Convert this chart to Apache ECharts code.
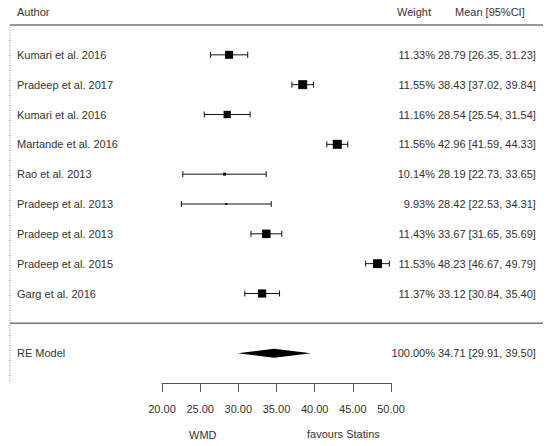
<!DOCTYPE html>
<html><head><meta charset="utf-8">
<script src="https://cdn.jsdelivr.net/npm/echarts@6/dist/echarts.min.js"></script>
<style>html,body{margin:0;padding:0;background:#fff}#c{width:550px;height:446px}</style>
</head><body><div id="c"></div>
<script>
const authors = ["Kumari et al. 2016","Pradeep et al. 2017","Kumari et al. 2016","Martande et al. 2016","Rao et al. 2013","Pradeep et al. 2013","Pradeep et al. 2013","Pradeep et al. 2015","Garg et al. 2016"];
const weights = [11.33,11.55,11.16,11.56,10.14,9.93,11.43,11.53,11.37];
const means = [28.79,38.43,28.54,42.96,28.19,28.42,33.67,48.23,33.12];
const lowers = [26.35,37.02,25.54,41.59,22.73,22.53,31.65,46.67,30.84];
const uppers = [31.23,39.84,31.54,44.33,33.65,34.31,35.69,49.79,35.40];
const reLabel = "RE Model";
const reWeight = 100.00;
const reMean = 34.71, reLower = 29.91, reUpper = 39.50;
const xTicks = [20,25,30,35,40,45,50];

const FONT = 'Liberation Sans, Arial, sans-serif';
const TXT = '#333';
const reRow = authors.length + 1;
const wMin = Math.min(...weights), wMax = Math.max(...weights);
const fmt = v => v.toFixed(2);

const studyData = authors.map((a,i)=>[i, means[i], lowers[i], uppers[i], weights[i]]);
const textData = authors.map((a,i)=>[i, a, weights[i].toFixed(2)+'%', fmt(means[i])+' ['+fmt(lowers[i])+', '+fmt(uppers[i])+']']);
textData.push([reRow, reLabel, reWeight.toFixed(2)+'%', fmt(reMean)+' ['+fmt(reLower)+', '+fmt(reUpper)+']']);

const chart = echarts.init(document.getElementById('c'), null, {renderer:'svg'});
chart.setOption({
  animation:false,
  backgroundColor:'#fff',
  textStyle:{fontFamily:FONT},
  grid:{left:162,right:159,top:25,bottom:63},
  xAxis:{type:'value',position:'bottom',min:xTicks[0],max:xTicks[xTicks.length-1],interval:5,
    splitLine:{show:false},
    axisLine:{show:true,onZero:false,lineStyle:{color:'#555',width:1}},
    axisTick:{show:true,length:9,inside:false,lineStyle:{color:'#555'}},
    axisLabel:{formatter:v=>v.toFixed(2),color:TXT,fontSize:11,margin:20,fontFamily:FONT}},
  yAxis:{type:'value',min:-1,max:reRow+1,inverse:true,show:false},
  graphic:[
    {type:'line',shape:{x1:10,y1:25,x2:543,y2:25},style:{stroke:'#777',lineWidth:1.5}},
    {type:'line',shape:{x1:10,y1:25,x2:10,y2:383},style:{stroke:'#888',lineWidth:1,lineDash:[1,1.5]}},
    {type:'text',left:17,top:6,style:{text:'Author',fill:TXT,font:'11px '+FONT}},
    {type:'text',left:397,top:6,style:{text:'Weight',fill:TXT,font:'11px '+FONT}},
    {type:'text',left:455,top:6,style:{text:'Mean [95%CI]',fill:TXT,font:'11px '+FONT}},
    {type:'text',left:189,top:429,style:{text:'WMD',fill:TXT,font:'11px '+FONT}},
    {type:'text',left:307,top:428,style:{text:'favours Statins',fill:TXT,font:'11px '+FONT}}
  ],
  series:[
    {type:'custom',data:[[reRow-1]],renderItem:(p,api)=>{
      const y=api.coord([20,api.value(0)])[1];
      return {type:'line',shape:{x1:10,y1:y,x2:543,y2:y},style:{stroke:'#777',lineWidth:1.5}};
    }},
    {type:'custom',data:studyData,renderItem:(p,api)=>{
      const r=api.value(0), m=api.value(1), lo=api.value(2), hi=api.value(3), w=api.value(4);
      const pl=api.coord([lo,r]), ph=api.coord([hi,r]), pm=api.coord([m,r]);
      const s=2+(w-wMin)/(wMax-wMin)*7;
      const c='#111';
      return {type:'group',children:[
        {type:'line',shape:{x1:pl[0],y1:pl[1],x2:ph[0],y2:ph[1]},style:{stroke:c,lineWidth:1}},
        {type:'line',shape:{x1:pl[0],y1:pl[1]-3,x2:pl[0],y2:pl[1]+3},style:{stroke:c,lineWidth:1}},
        {type:'line',shape:{x1:ph[0],y1:ph[1]-3,x2:ph[0],y2:ph[1]+3},style:{stroke:c,lineWidth:1}},
        {type:'rect',shape:{x:pm[0]-s/2,y:pm[1]-s/2,width:s,height:s},style:{fill:'#000'}}
      ]};
    }},
    {type:'custom',data:[[reRow,reMean,reLower,reUpper]],renderItem:(p,api)=>{
      const r=api.value(0);
      const a=api.coord([api.value(2),r]), b=api.coord([api.value(3),r]), m=api.coord([api.value(1),r]);
      return {type:'polygon',shape:{points:[[a[0],a[1]],[m[0],m[1]-4.5],[b[0],b[1]],[m[0],m[1]+4.5]]},style:{fill:'#000'}};
    }},
    {type:'custom',data:textData,renderItem:(p,api)=>{
      const r=api.value(0);
      const y=api.coord([20,r])[1];
      const d=textData[p.dataIndex];
      return {type:'group',children:[
        {type:'text',x:17,y:y,style:{text:d[1],fill:TXT,font:'11px '+FONT,textAlign:'left',textVerticalAlign:'middle'}},
        {type:'text',x:435,y:y,style:{text:d[2],fill:TXT,font:'11px '+FONT,textAlign:'right',textVerticalAlign:'middle'}},
        {type:'text',x:438,y:y,style:{text:d[3],fill:TXT,font:'11px '+FONT,textAlign:'left',textVerticalAlign:'middle'}}
      ]};
    }}
  ]
});
</script></body></html>
